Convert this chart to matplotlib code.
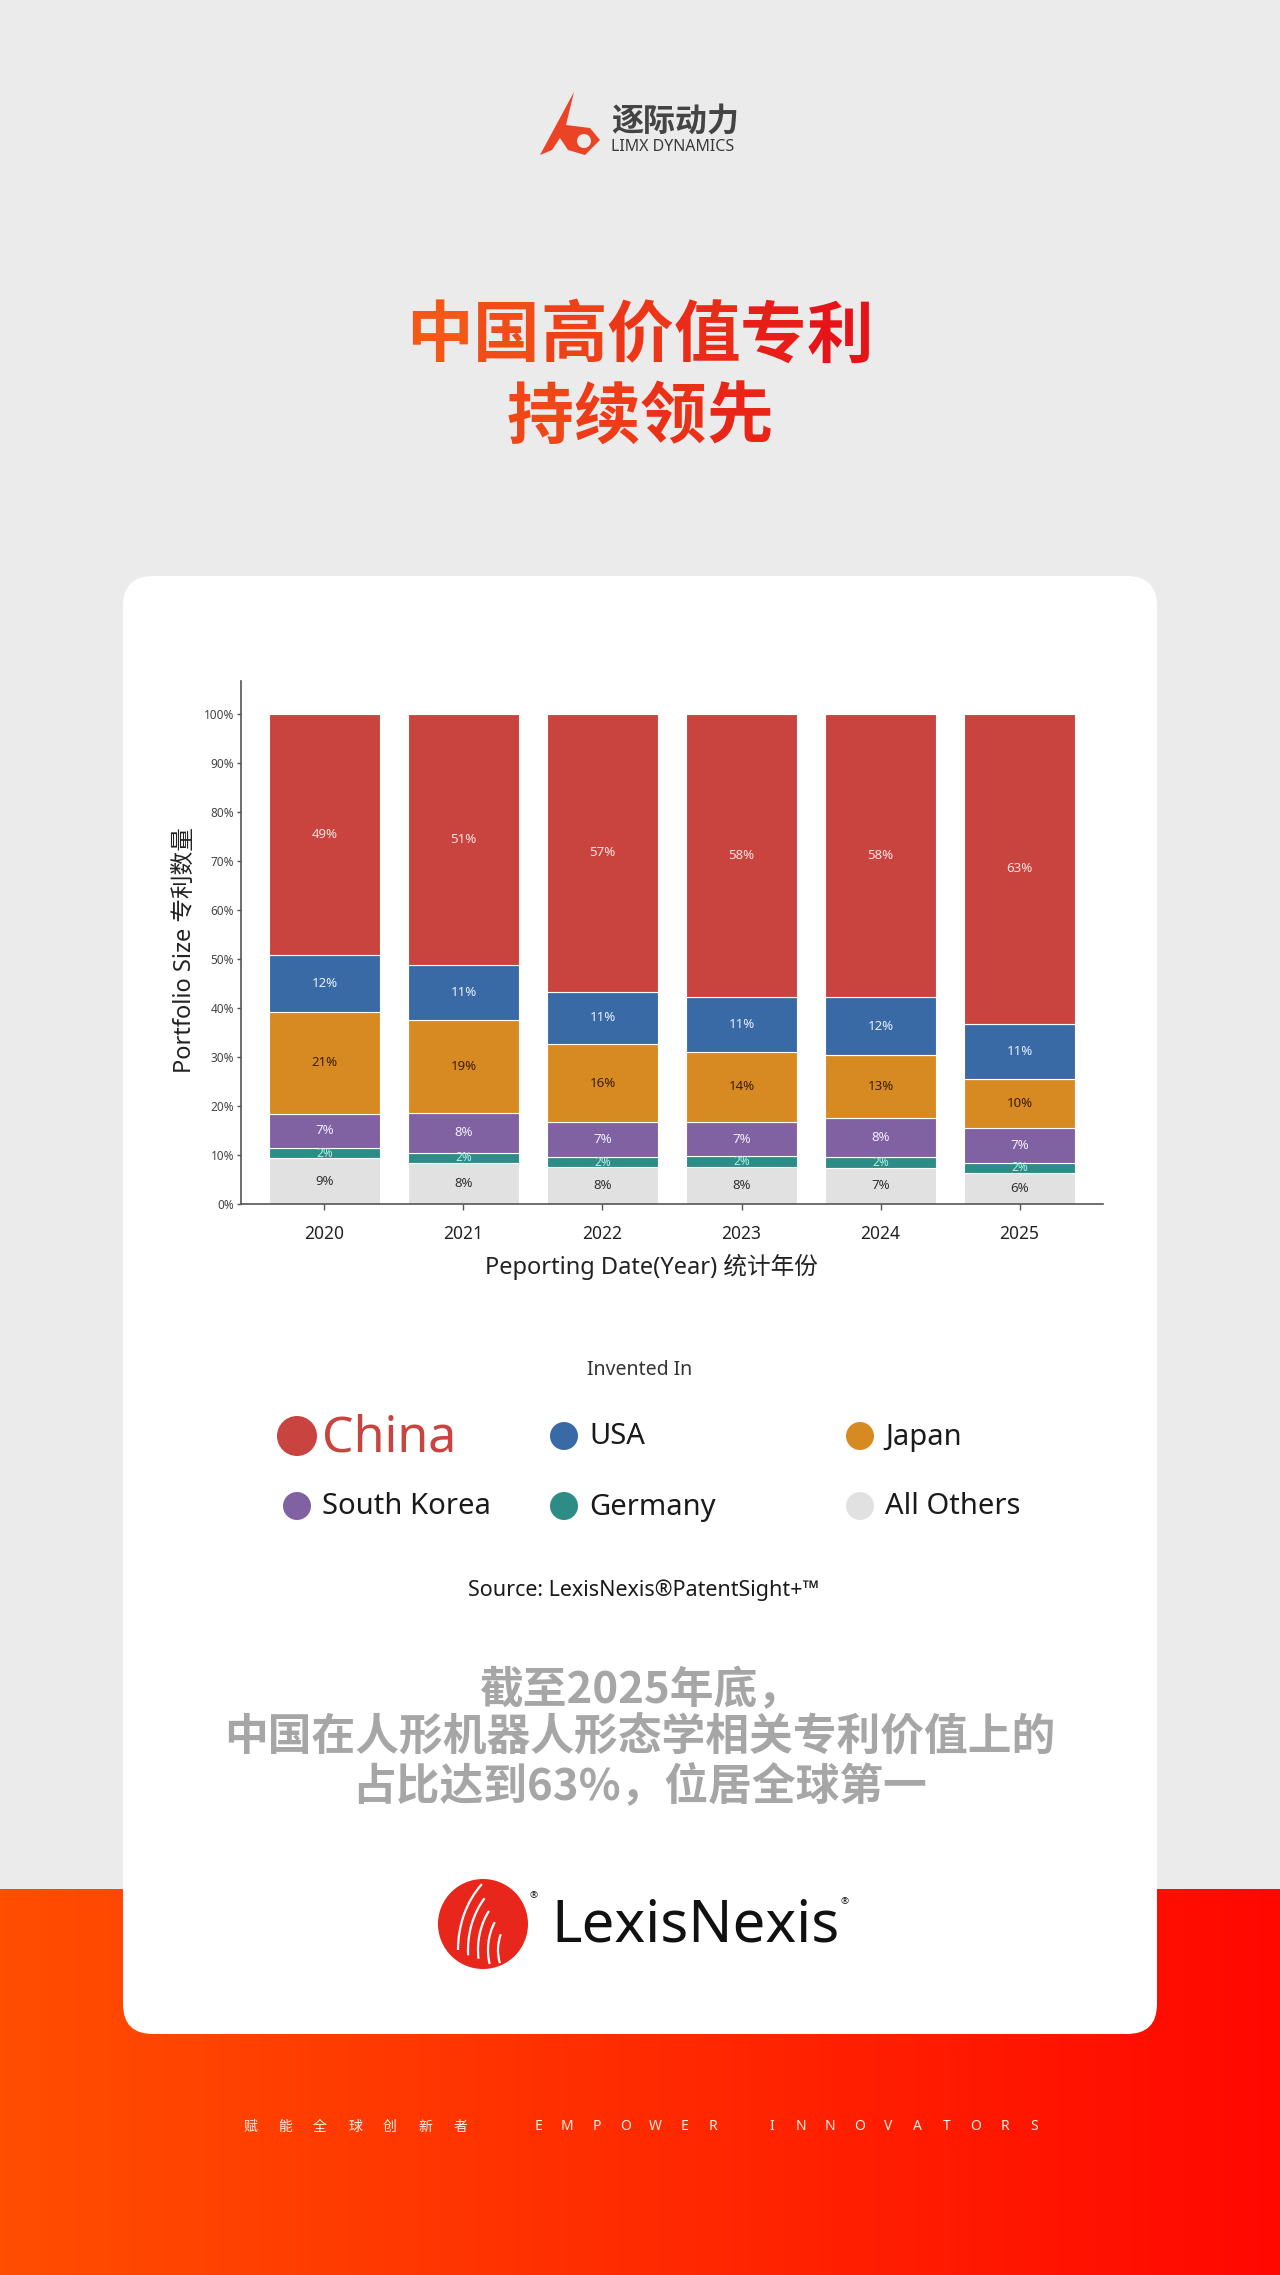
import numpy as np
import matplotlib
matplotlib.use("Agg")
import matplotlib.pyplot as plt
from matplotlib.patches import FancyBboxPatch, Circle, Polygon, Arc

plt.rcParams['font.family'] = ['Noto Sans', 'Noto Sans CJK SC', 'DejaVu Sans']

# ---------------- data ----------------
years = ['2020', '2021', '2022', '2023', '2024', '2025']
categories = ['China', 'USA', 'Japan', 'South Korea', 'Germany', 'All Others']
china = [49.2, 51.2, 56.7, 57.8, 57.8, 63.3]
usa = [11.6, 11.3, 10.7, 11.2, 11.8, 11.2]
japan = [20.8, 18.9, 15.9, 14.2, 12.9, 9.9]
korea = [6.9, 8.1, 7.2, 7.1, 8.0, 7.2]
germany = [2.2, 2.2, 1.9, 2.1, 2.1, 2.0]
others = [9.3, 8.3, 7.6, 7.6, 7.4, 6.4]
yticks = [0, 10, 20, 30, 40, 50, 60, 70, 80, 90, 100]

colors = {'China': '#c9443f', 'USA': '#3a6aa6', 'Japan': '#d88a22',
          'South Korea': '#8062a3', 'Germany': '#2e8c86', 'All Others': '#e1e1e1'}
label_colors = {'China': '#fbe4e2', 'USA': '#e6f0ff', 'Japan': '#3a1e00',
                'South Korea': '#f3ebff', 'Germany': '#b4efe8', 'All Others': '#333333'}

W, H = 1280, 2275
fig = plt.figure(figsize=(W / 100, H / 100), dpi=100)

# ---------------- background layer (pixel coordinates) ----------------
bg = fig.add_axes([0, 0, 1, 1], zorder=0)
bg.set_xlim(0, W)
bg.set_ylim(H, 0)
bg.axis('off')
bg.add_patch(plt.Rectangle((0, 0), W, H, color='#ebebeb', zorder=0))
grad = np.linspace(0, 1, 256)
c0 = np.array([255, 78, 0]) / 255
c1 = np.array([255, 8, 0]) / 255
img = (c0[None, :] * (1 - grad[:, None]) + c1[None, :] * grad[:, None])[None, :, :]
bg.imshow(img, extent=(0, W, H, 1889), aspect='auto', zorder=1)
bg.set_xlim(0, W)
bg.set_ylim(H, 0)
bg.add_patch(FancyBboxPatch((123, 576), 1157 - 123, 2034 - 576,
                            boxstyle="round,pad=0,rounding_size=30",
                            fc='white', ec='none', zorder=2))

# LimX logo
bg.add_patch(Polygon([[540, 155], [574, 92], [566, 125], [590, 128], [600, 140],
                      [585, 155], [568, 150], [560, 138], [552, 150]],
                     closed=True, fc='#ea4326', ec='none', zorder=3))
bg.add_patch(Circle((584, 141), 7, fc='#ebebeb', ec='none', zorder=4))
bg.text(611, 122, '逐际动力', fontsize=23, fontweight='bold', style='italic',
        color='#444444', ha='left', va='center', family=['Noto Sans CJK SC'], zorder=4)
bg.text(611, 147, 'LIMX DYNAMICS', fontsize=11.5, fontweight='bold',
        color='#3a3a3a', ha='left', va='center', zorder=4)

# Title with left-to-right orange->red gradient (per character)
t_left = np.array([243, 88, 24]) / 255
t_right = np.array([230, 20, 24]) / 255
pitch = 66.7
for line, yy in [('中国高价值专利', 337), ('持续领先', 418)]:
    n = len(line)
    for i, ch in enumerate(line):
        cx = 640 + (i - (n - 1) / 2) * pitch
        t = np.clip((cx - 440) / (840 - 440), 0, 1)
        col = t_left * (1 - t) + t_right * t
        bg.text(cx, yy, ch, fontsize=48, fontweight='bold', color=col,
                ha='center', va='center', family=['Noto Sans CJK SC'], zorder=4)

# ---------------- chart ----------------
ax = fig.add_axes([241 / W, 1 - 1204 / H, (1103 - 241) / W, (1204 - 681) / H], zorder=3)
ax.patch.set_alpha(0)
x = np.arange(len(years))
series = [('All Others', others), ('Germany', germany), ('South Korea', korea),
          ('Japan', japan), ('USA', usa), ('China', china)]
bottom = np.zeros(len(years))
for name, vals in series:
    vals = np.array(vals)
    ax.bar(x, vals, 0.8, bottom=bottom, color=colors[name], edgecolor='white',
           linewidth=0.8, zorder=2)
    for xi, b, v in zip(x, bottom, vals):
        ax.text(xi, b + v / 2, f"{int(round(v))}%", ha='center', va='center',
                fontsize=9.5 if name != 'Germany' else 8.5, fontweight='bold',
                color=label_colors[name], zorder=3)
    bottom += vals

ax.set_xlim(-0.6, 5.6)
ax.set_ylim(0, 106.7)
ax.set_xticks(x)
ax.set_xticklabels(years, fontsize=12.5, color='#222222')
ax.set_yticks(yticks)
ax.set_yticklabels([f"{t}%" for t in yticks], fontsize=8.5, color='#444444')
ax.tick_params(axis='x', length=4, width=1, color='#555555', pad=11)
ax.tick_params(axis='y', length=3, width=1, color='#555555', pad=2)
for s in ['top', 'right']:
    ax.spines[s].set_visible(False)
for s in ['left', 'bottom']:
    ax.spines[s].set_color('#555555')
    ax.spines[s].set_linewidth(1.2)
ax.set_xlabel('Peporting Date(Year) 统计年份', fontsize=17, color='#222222')
ax.xaxis.set_label_coords((651 - 241) / 862, (1204 - 1254) / 523)
ax.set_ylabel('Portfolio Size 专利数量', fontsize=17, color='#222222',
              rotation=90, ha='center', va='center')
ax.yaxis.set_label_coords((185 - 241) / 862, (1204 - 950) / 523)

# ---------------- legend ----------------
bg.text(640, 1370, 'Invented In', fontsize=14, color='#333333', ha='center',
        va='center', zorder=4)
legend_pos = [(297, 1436), (564, 1436), (860, 1436), (297, 1506), (564, 1506), (860, 1506)]
for name, (lx, ly) in zip(categories, legend_pos):
    if name == 'China':
        bg.add_patch(Circle((lx, ly), 20, fc=colors[name], ec='none', zorder=4))
        bg.text(lx + 25, ly + 2, name, fontsize=36, color=colors[name], ha='left',
                va='center', zorder=4)
    else:
        bg.add_patch(Circle((lx, ly), 14, fc=colors[name], ec='none', zorder=4))
        bg.text(lx + 25, ly + 1, name, fontsize=21, color='#1a1a1a', ha='left',
                va='center', zorder=4)

bg.text(644, 1590, 'Source: LexisNexis®PatentSight+™', fontsize=15.5, color='#1a1a1a',
        ha='center', va='center', zorder=4)

# Bottom statement
for txt, yy in [('截至2025年底，', 1690),
                ('中国在人形机器人形态学相关专利价值上的', 1738),
                ('占比达到63%，位居全球第一', 1786)]:
    bg.text(640, yy, txt, fontsize=31.5, fontweight='bold', color='#a6a6a6',
            ha='center', va='center', family=['Noto Sans CJK SC'], zorder=4)

# LexisNexis logo
bg.add_patch(Circle((483, 1924), 45, fc='#e8261c', ec='none', zorder=4))
for r, th1, th2 in [(70, 120, 175), (60, 115, 170), (50, 110, 165), (40, 100, 160), (30, 95, 150)]:
    bg.add_patch(Arc((528, 1950), 2 * r, 2 * r * 1.25, theta1=th1 + 60, theta2=th2 + 60,
                     color='white', lw=1.6, zorder=5))
ln = bg.text(551, 1926, 'LexisNexis', fontsize=42, color='#111111', ha='left',
             va='center', zorder=4)
bg.text(529, 1896, '®', fontsize=7, color='#111111', ha='left', va='center', zorder=4)
fig.canvas.draw()
bb = ln.get_window_extent(renderer=fig.canvas.get_renderer())
reg_x = bb.x1 + 1
bg.text(reg_x, 1902, '®', fontsize=7, color='#111111', ha='left', va='center', zorder=4)

# Footer
for i, ch in enumerate('赋能全球创新者'):
    bg.text(250 + i * 35, 2127, ch, fontsize=10, color='#fff1e6', ha='center',
            va='center', family=['Noto Sans CJK SC'], zorder=4)
for i, ch in enumerate('EMPOWER INNOVATORS'):
    if ch != ' ':
        bg.text(538 + i * 29.2, 2127, ch, fontsize=10, color='#fff1e6', ha='center',
                va='center', zorder=4)

fig.savefig('out.png', dpi=100)
